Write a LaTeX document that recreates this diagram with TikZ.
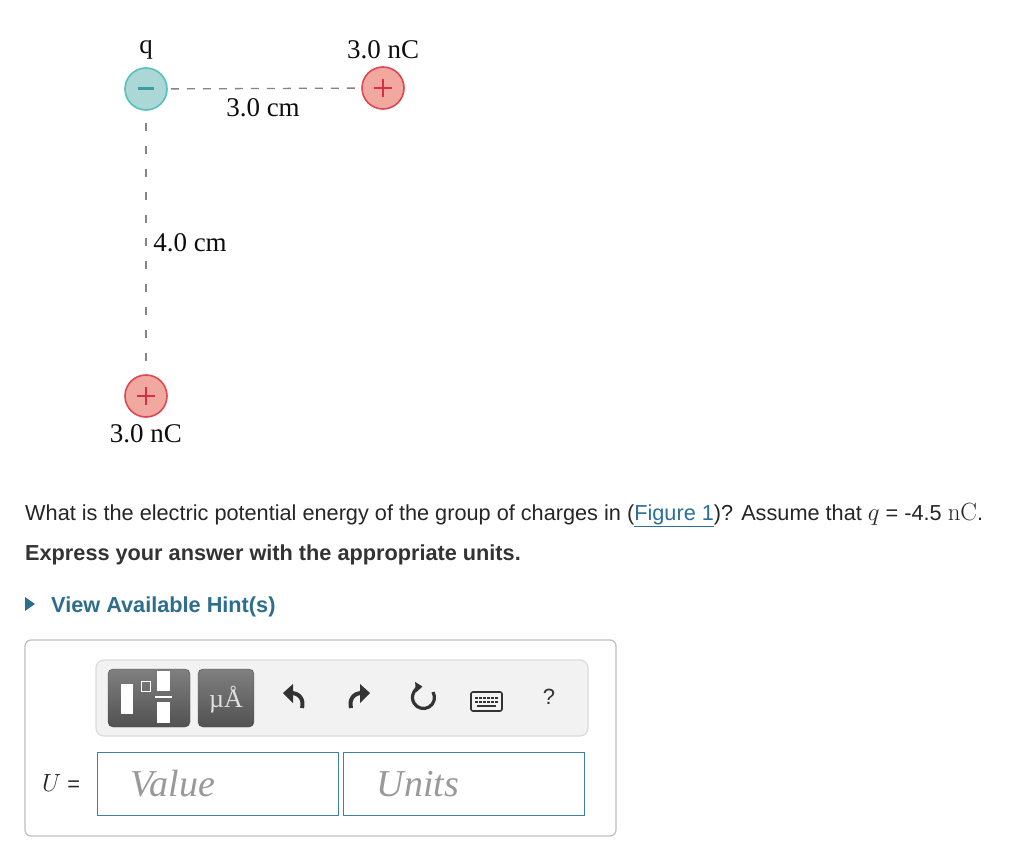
\documentclass[tikz,border=0pt]{standalone}
\usepackage[no-math]{fontspec}
\setmainfont{Liberation Sans}
\newfontfamily\figfont{Liberation Serif}
\usepackage{tikz}
\usetikzlibrary{positioning,arrows.meta}

\definecolor{negfill}{HTML}{ABD8D6}
\definecolor{negdraw}{HTML}{55C0BC}
\definecolor{negsign}{HTML}{3C9E9B}
\definecolor{posfill}{HTML}{F1A89F}
\definecolor{posdraw}{HTML}{E04555}
\definecolor{possign}{HTML}{D82F47}
\definecolor{linkblue}{HTML}{2A6F9E}
\definecolor{hintblue}{HTML}{2D6E8E}
\definecolor{boxblue}{HTML}{3F7FA8}
\definecolor{icongray}{HTML}{333333}

\newcommand{\bigmath}[1]{{\fontsize{25}{26}\selectfont$#1$}}

\tikzset{
  charge/.style={circle,minimum size=42pt,inner sep=0pt,line width=1.6pt},
  negcharge/.style={charge,fill=negfill,draw=negdraw},
  poscharge/.style={charge,fill=posfill,draw=posdraw},
  figlabel/.style={font=\figfont\fontsize{27}{29}\selectfont,text=black!95,inner sep=0pt},
  dimline/.style={draw=black!48,line width=1.3pt,dash pattern=on 8pt off 8pt},
  btn/.style={rounded corners=5pt,draw=black!70,top color=black!50,bottom color=black!68},
  inbox/.style={draw=boxblue,line width=1.3pt,minimum width=241pt,minimum height=63pt,anchor=north west,inner sep=0pt},
  placeholder/.style={font=\figfont\itshape\fontsize{38}{40}\selectfont,text=black!40},
  bodytext/.style={anchor=base west,inner sep=0pt,font=\fontsize{21.7}{26}\selectfont}
}

\begin{document}
\begin{tikzpicture}[x=1pt,y=-1pt]
  \useasboundingbox[fill=white] (0,0) rectangle (1024,866);

  % the three charges
  \node[negcharge] (q)  at (146,89)  {};
  \node[poscharge] (q1) at (383,88)  {};
  \node[poscharge] (q2) at (146,396) {};
  \draw[negsign,line width=3pt] ([xshift=-8pt]q.center) -- ([xshift=8pt]q.center);
  \draw[possign,line width=2.2pt] ([xshift=-9pt]q1.center) -- ([xshift=9pt]q1.center)
                                  ([yshift=-9pt]q1.center) -- ([yshift=9pt]q1.center);
  \draw[possign,line width=2.2pt] ([xshift=-9pt]q2.center) -- ([xshift=9pt]q2.center)
                                  ([yshift=-9pt]q2.center) -- ([yshift=9pt]q2.center);
  \draw[dimline,shorten <=3pt,shorten >=1pt] (q) -- (q1);
  \draw[dimline,dash pattern=on 8pt off 15pt,shorten <=12pt,shorten >=2pt] (q) -- (q2);

  % labels
  \node[figlabel,above=8pt of q]  (lq)  {q};
  \node[figlabel,above=7pt of q1] (lq1) {3.0 nC};
  \node[figlabel,below=7pt of q2] (lq2) {3.0 nC};
  \node[figlabel] (d1) at (263,108) {3.0 cm};
  \node[figlabel] (d2) at (190,243) {4.0 cm};

  % question
  \node[bodytext,text=black!85] (qtext) at (25,520)
    {What is the electric potential energy of the group of charges in (\textcolor{linkblue}{\underline{Figure 1}})? Assume that \bigmath{q} = -4.5 \bigmath{\mathrm{nC}}.};
  \node[bodytext,text=black!80,font=\bfseries\fontsize{21.7}{26}\selectfont] (expr) at (25,560)
    {Express your answer with the appropriate units.};
  \fill[hintblue] (25,597) -- (35,604) -- (25,611) -- cycle;
  \node[bodytext,text=hintblue,font=\bfseries\fontsize{21.7}{26}\selectfont] (hint) at (51,612)
    {View Available Hint(s)};

  % answer area
  \draw[black!25,line width=1.2pt,rounded corners=6pt] (25,640) rectangle (616,836);
  \draw[black!14,fill=black!5,line width=1.2pt,rounded corners=8pt] (96,660) rectangle (588,736);
  \node[btn,minimum width=82pt,minimum height=58pt] (tmpl) at (149,698) {};
  \node[btn,minimum width=56pt,minimum height=58pt] (unit) at (226,698) {};
  \fill[white] (121,684) rectangle (133,714);
  \draw[white,line width=1pt] (141,681) rectangle (150,691);
  \fill[white] (157,671) rectangle (170,691);
  \fill[white] (155,696) rectangle (172,698);
  \fill[white] (157,702) rectangle (170,723);
  \node[text=black!12,font=\figfont\fontsize{26}{28}\selectfont] at (226,700) {µÅ};

  % undo, redo, reset, keyboard, help
  \draw[icongray,line width=4pt] (291,693) .. controls (300,693) and (304,700) .. (302,708);
  \fill[icongray] (283,693) -- (293,684) -- (293,703) -- cycle;
  \draw[icongray,line width=4pt] (362,693) .. controls (353,693) and (349,700) .. (351,708);
  \fill[icongray] (370,693) -- (360,684) -- (360,703) -- cycle;
  \draw[icongray,line width=3.2pt,-{Triangle[length=7pt,width=10pt]}] (433,692) arc[start angle=-30,end angle=265,radius=11];
  \draw[icongray,line width=1.6pt,rounded corners=2pt] (471,692) rectangle (502,711);
  \foreach \r in {697,701} \foreach \c in {475,479,...,497}
    \fill[icongray] (\c,\r) rectangle ++(2.5,2);
  \fill[icongray] (477,705) rectangle (496,707);
  \node[text=icongray,font=\fontsize{22}{24}\selectfont] (help) at (549,697) {?};

  % U = value units
  \node[anchor=base,inner sep=0pt,text=black!85,font=\fontsize{21.7}{26}\selectfont] (ulab) at (61,791) {\bigmath{U} =};
  \node[inbox] (val) at (97,752) {};
  \node[inbox] (uni) at (343,752) {};
  \node[placeholder] at (173,784) {Value};
  \node[placeholder] at (418,784) {Units};
\end{tikzpicture}
\end{document}
